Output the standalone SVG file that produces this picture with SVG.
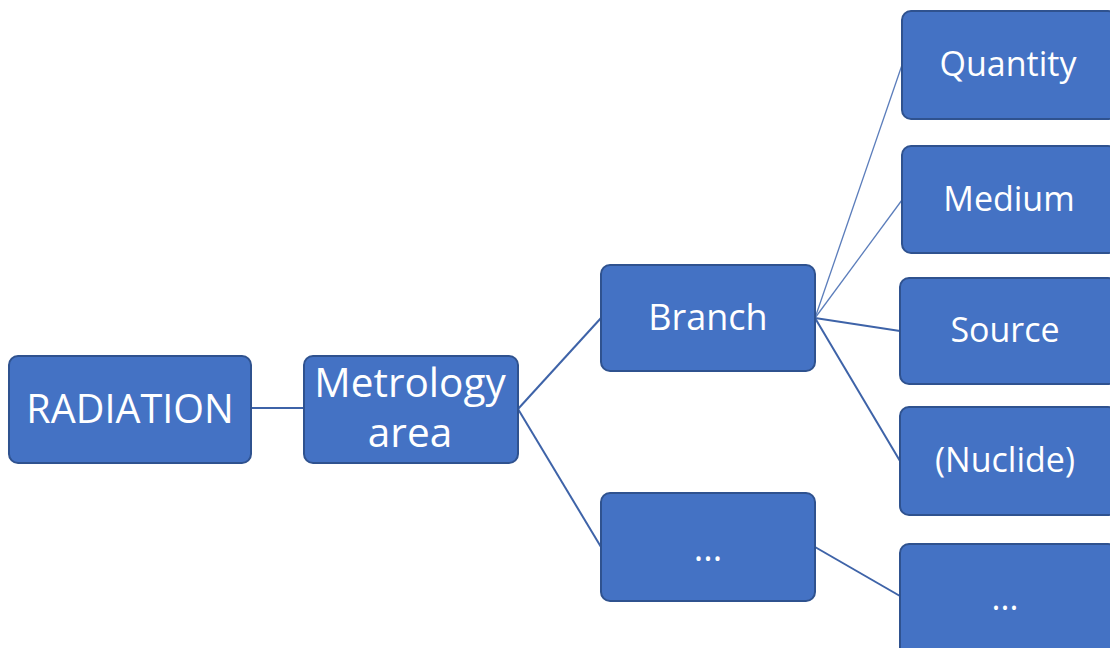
<svg xmlns="http://www.w3.org/2000/svg" width="1110" height="648" viewBox="0 0 1110 648">
<style>
.n{fill:#4472C4;stroke:#2F528F;stroke-width:2}
.t{font-family:"Open Sans","Noto Sans",sans-serif;font-size:36px;fill:#FFFFFF;text-anchor:middle}
.r{font-size:34px}
.c{stroke:#3E63A8;stroke-width:2;fill:none}
.c1{stroke:#5B7DBB;stroke-width:1.3;fill:none}
</style>
<rect width="1110" height="648" fill="#FFFFFF"/>
<g id="connectors">
<line class="c" x1="251" y1="408" x2="304" y2="408"/>
<line class="c" x1="518" y1="409" x2="601" y2="318"/>
<line class="c" x1="518" y1="409" x2="601" y2="547"/>
<line class="c1" x1="815" y1="318" x2="902" y2="65"/>
<line class="c1" x1="815" y1="318" x2="902" y2="200"/>
<line class="c" x1="815" y1="318" x2="900" y2="331"/>
<line class="c" x1="815" y1="318" x2="900" y2="461"/>
<line class="c" x1="815" y1="547" x2="900" y2="596"/>
</g>
<g id="radiation"><rect class="n" x="9" y="356" width="242" height="107" rx="9"/><text class="t" x="130" y="423" style="font-size:39.5px">RADIATION</text></g>
<g id="metrology"><rect class="n" x="304" y="356" width="214" height="107" rx="9"/><text class="t" x="410" y="397" style="font-size:40.5px">Metrology</text><text class="t" x="410" y="447" style="font-size:40.5px">area</text></g>
<g id="branch"><rect class="n" x="601" y="265" width="214" height="106" rx="9"/><text class="t" x="708" y="330">Branch</text></g>
<g id="more1"><rect class="n" x="601" y="493" width="214" height="108" rx="9"/><text class="t" x="708" y="561">...</text></g>
<g id="quantity"><rect class="n" x="902" y="11" width="215" height="108" rx="9"/><text class="t r" x="1008" y="76">Quantity</text></g>
<g id="medium"><rect class="n" x="902" y="146" width="215" height="107" rx="9"/><text class="t r" x="1009" y="211">Medium</text></g>
<g id="source"><rect class="n" x="900" y="278" width="217" height="106" rx="9"/><text class="t r" x="1005" y="342">Source</text></g>
<g id="nuclide"><rect class="n" x="900" y="407" width="217" height="108" rx="9"/><text class="t r" x="1005" y="472">(Nuclide)</text></g>
<g id="more2"><rect class="n" x="900" y="544" width="217" height="115" rx="9"/><text class="t r" x="1005" y="610">...</text></g>
</svg>
